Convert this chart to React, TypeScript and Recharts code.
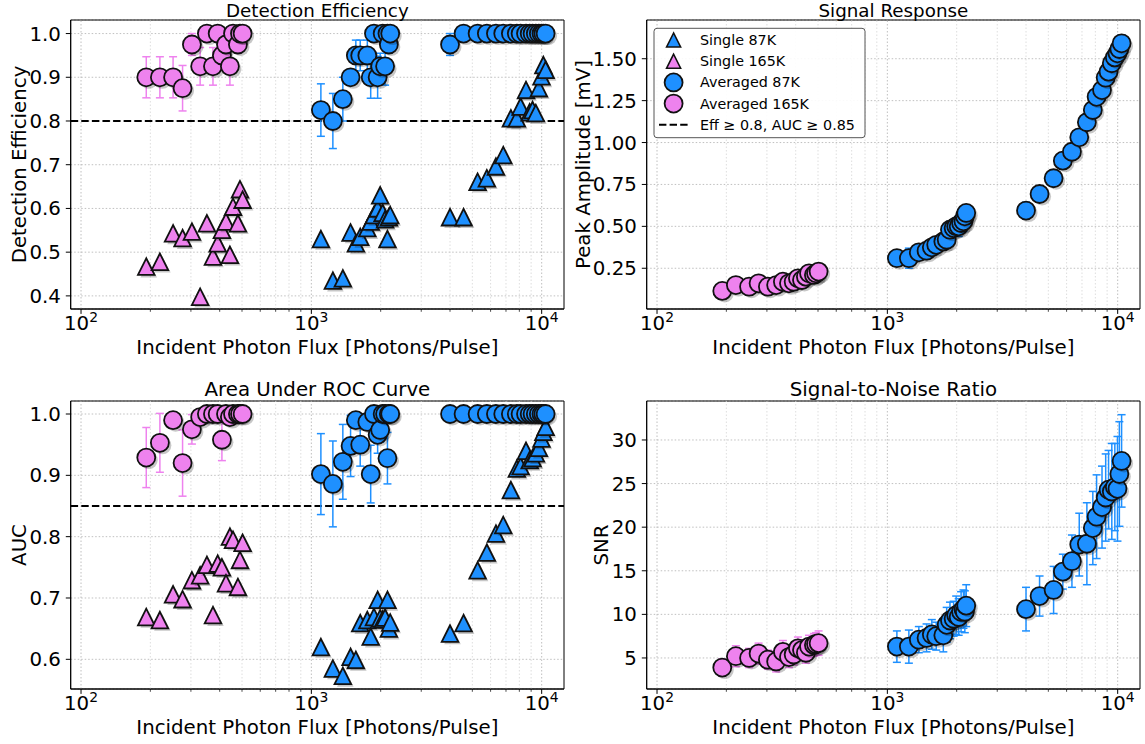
import React from 'react';
import {
  ScatterChart,
  Scatter,
  XAxis,
  YAxis,
  CartesianGrid,
  ReferenceLine,
  ReferenceArea,
  ErrorBar,
} from 'recharts';

const FONT = 'DejaVu Sans, sans-serif';
const BLUE = '#1E90FF';
const PINK = '#EE82EE';
const FS = 19.8;

// ---- axes ----
const MAJOR_X = [100, 1000, 10000];
const MINOR_X = [200, 300, 400, 500, 600, 700, 800, 900, 2000, 3000, 4000, 5000, 6000, 7000, 8000, 9000];
const ALL_X = [...MAJOR_X, ...MINOR_X].sort((a, b) => a - b);
const X_DOMAIN: [number, number] = [90.2, 12500];

const DE_TICKS = [0.4, 0.5, 0.6, 0.7, 0.8, 0.9, 1.0];
const SR_TICKS = [0.25, 0.5, 0.75, 1.0, 1.25, 1.5];
const AUC_TICKS = [0.6, 0.7, 0.8, 0.9, 1.0];
const SNR_TICKS = [5, 10, 15, 20, 25, 30];

// ---- x values (incident photon flux) ----
const x165 = [192, 220, 251, 276, 303, 329, 352, 374, 392, 409, 426, 443, 457, 480, 490, 503];
const x87 = [
  1100, 1240, 1370, 1480, 1560, 1630, 1750, 1810, 1870, 1940, 1990, 2040, 2090, 2140, 2170, 2200,
  4000, 4580, 5270, 5780, 6330, 6810, 7350, 7800, 8100, 8550, 8870, 9130, 9430, 9720, 9980, 10170, 10400,
];

// ---- Detection efficiency ----
const deAvg165 = [0.9, 0.9, 0.9, 0.875, 0.975, 0.925, 1.0, 0.925, 1.0, 0.95, 0.975, 0.925, 1.0, 0.975, 1.0, 1.0];
const deAvg165Err = [0.047, 0.047, 0.047, 0.052, 0.025, 0.043, 0, 0.043, 0, 0.02, 0.02, 0.043, 0, 0.02, 0, 0];
const deSingle165 = [0.467, 0.478, 0.543, 0.532, 0.547, 0.398, 0.566, 0.49, 0.52, 0.551, 0.57, 0.494, 0.604, 0.566, 0.644, 0.62];
const deAvg87 = [
  0.825, 0.8, 0.85, 0.9, 0.95, 0.95, 0.95, 0.9, 1.0, 0.9, 0.925, 1.0, 0.925, 1.0, 0.975, 1.0,
  0.975, 1, 1, 1, 1, 1, 1, 1, 1, 1, 1, 1, 1, 1, 1, 1, 1,
];
const deAvg87Err = [
  0.06, 0.063, 0.05, 0.01, 0.035, 0.035, 0.035, 0.048, 0, 0.048, 0.03, 0, 0.043, 0, 0.02, 0,
  0.025, 0, 0, 0, 0, 0, 0, 0, 0, 0, 0, 0, 0, 0, 0, 0, 0,
];
const deSingle87 = [
  0.53, 0.435, 0.44, 0.545, 0.52, 0.535, 0.555, 0.57, 0.585, 0.6, 0.63, 0.59, 0.575, 0.53, 0.58, 0.585,
  0.58, 0.58, 0.661, 0.669, 0.696, 0.722, 0.806, 0.806, 0.833, 0.871, 0.82, 0.825, 0.818, 0.875, 0.902, 0.928, 0.917,
];

// ---- Signal response (peak amplitude, mV) ----
const srAvg165 = [0.115, 0.15, 0.14, 0.16, 0.14, 0.15, 0.17, 0.16, 0.17, 0.19, 0.18, 0.2, 0.22, 0.21, 0.22, 0.23];
const srAvg165Err = [0.012, 0.012, 0.012, 0.012, 0.012, 0.012, 0.012, 0.012, 0.012, 0.012, 0.012, 0.012, 0.012, 0.012, 0.012, 0.012];
const srAvg87 = [
  0.31, 0.31, 0.345, 0.355, 0.375, 0.39, 0.41, 0.42, 0.48, 0.49, 0.5, 0.5, 0.52, 0.53, 0.56, 0.58,
  0.594, 0.693, 0.787, 0.892, 0.945, 1.031, 1.121, 1.194, 1.273, 1.313, 1.387, 1.423, 1.473, 1.508, 1.532, 1.558, 1.592,
];
const srAvg87Err = [
  0.04, 0.06, 0.04, 0.04, 0.03, 0.03, 0.04, 0.04, 0.05, 0.04, 0.05, 0.06, 0.05, 0.06, 0.05, 0.04,
  0.05, 0.03, 0.03, 0.03, 0.03, 0.03, 0.03, 0.04, 0.03, 0.03, 0.03, 0.04, 0.03, 0.04, 0.04, 0.05, 0.05,
];

// ---- AUC ----
const aucAvg165 = [0.929, 0.953, 0.99, 0.92, 0.975, 0.995, 1.0, 1.0, 1.0, 0.958, 1.0, 0.995, 1.0, 1.0, 1.0, 1.0];
const aucAvg165Err = [0.049, 0.048, 0.01, 0.054, 0.024, 0.005, 0, 0, 0, 0.034, 0, 0.005, 0, 0, 0, 0];
const aucSingle165 = [0.669, 0.664, 0.706, 0.698, 0.729, 0.737, 0.754, 0.672, 0.756, 0.75, 0.724, 0.8, 0.795, 0.718, 0.762, 0.79];
const aucAvg87 = [
  0.902, 0.886, 0.922, 0.948, 0.99, 0.95, 0.987, 0.902, 1.0, 0.966, 0.974, 1.0, 1.0, 0.928, 1.0, 1.0,
  1, 1, 1, 1, 1, 1, 1, 1, 1, 1, 1, 1, 1, 1, 1, 1, 1,
];
const aucAvg87Err = [
  0.066, 0.07, 0.061, 0.05, 0.01, 0.035, 0.01, 0.047, 0, 0.03, 0.02, 0, 0, 0.042, 0, 0,
  0, 0, 0, 0, 0, 0, 0, 0, 0, 0, 0, 0, 0, 0, 0, 0, 0,
];
const aucSingle87 = [
  0.62, 0.585, 0.573, 0.604, 0.599, 0.659, 0.664, 0.637, 0.669, 0.697, 0.667, 0.665, 0.668, 0.697, 0.65, 0.66,
  0.642, 0.659, 0.745, 0.774, 0.805, 0.819, 0.876, 0.911, 0.915, 0.94, 0.925, 0.928, 0.936, 0.945, 0.96, 0.971, 0.979,
];

// ---- SNR ----
const snrAvg165 = [3.9, 5.2, 5.0, 5.5, 4.8, 4.6, 5.7, 5.1, 5.4, 6.1, 5.9, 5.6, 6.3, 6.5, 6.6, 6.7];
const snrAvg165Err = [1.0, 1.2, 1.1, 1.2, 1.1, 1.2, 1.3, 1.2, 1.2, 1.3, 1.2, 1.2, 1.3, 1.3, 1.3, 1.4];
const snrAvg87 = [
  6.3, 6.3, 7.1, 7.3, 7.7, 7.5, 7.6, 8.8, 9.3, 9.5, 9.9, 9.7, 10.3, 10.6, 10.3, 11.0,
  10.6, 12.1, 12.8, 14.9, 16.1, 18.0, 18.1, 19.9, 21.2, 22.3, 23.4, 24.3, 24.1, 24.6, 24.4, 26.1, 27.6,
];
const snrAvg87Err = [
  1.8, 1.9, 1.5, 1.6, 1.7, 1.6, 1.9, 2.0, 2.1, 2.0, 2.2, 2.1, 2.3, 2.2, 2.4, 2.4,
  2.5, 2.3, 2.7, 2.0, 3.0, 3.6, 4.7, 4.2, 4.8, 4.7, 5.0, 4.5, 5.5, 5.0, 6.0, 6.0, 5.3,
];

const LEGEND_LABELS = ['Single 87K', 'Single 165K', 'Averaged 87K', 'Averaged 165K', 'Eff \u2265 0.8, AUC \u2265 0.85'];

type Pt = { x: number; y: number; err: number };
const build = (xs: number[], ys: number[], errs?: number[]): Pt[] =>
  xs.map((x, i) => ({ x, y: ys[i], err: errs ? errs[i] : 0 }));

const R = 9;
const T = 8.3;

const circleShape = (color: string) => (props: any) => {
  const { cx, cy } = props;
  if (cx == null || cy == null || isNaN(cx) || isNaN(cy)) return <g />;
  return (
    <g>
      <circle cx={cx + 2.5} cy={cy + 2.5} r={R} fill="#000" fillOpacity={0.22} />
      <circle cx={cx} cy={cy} r={R} fill={color} stroke="#111" strokeWidth={1.8} />
    </g>
  );
};

const triPts = (cx: number, cy: number, h: number, dx = 0, dy = 0) =>
  `${cx + dx},${cy - h + dy} ${cx - h + dx},${cy + h + dy} ${cx + h + dx},${cy + h + dy}`;

const triangleShape = (color: string) => (props: any) => {
  const { cx, cy } = props;
  if (cx == null || cy == null || isNaN(cx) || isNaN(cy)) return <g />;
  return (
    <g>
      <polygon points={triPts(cx, cy, T, 2.5, 2.5)} fill="#000" fillOpacity={0.22} />
      <polygon points={triPts(cx, cy, T)} fill={color} stroke="#111" strokeWidth={1.8} strokeLinejoin="miter" />
    </g>
  );
};

const XTick = (props: any) => {
  const { x, y, payload } = props;
  const v = payload.value;
  const major = MAJOR_X.includes(v);
  return (
    <g>
      <line x1={x} x2={x} y1={y} y2={y + (major ? 4.9 : 2.8)} stroke="#000" strokeWidth={major ? 1 : 0.7} />
      {major && (
        <text x={x} y={y + 21} textAnchor="middle" fontSize={FS} fontFamily={FONT} fill="#000">
          10
          <tspan dy={-7.6} fontSize={13.9}>
            {Math.round(Math.log10(v))}
          </tspan>
        </text>
      )}
    </g>
  );
};

type Series = { data: Pt[]; color: string; kind: 'tri' | 'circ'; err?: boolean; name: string };

type PanelProps = {
  left: number;
  top: number;
  width: number;
  height: number;
  margin: { top: number; right: number; bottom: number; left: number };
  yDomain: [number, number];
  yTicks: number[];
  yFmt: (v: number) => string;
  series: Series[];
  threshold?: number;
};

function Panel(p: PanelProps) {
  return (
    <div style={{ position: 'absolute', left: p.left, top: p.top }}>
      <ScatterChart width={p.width} height={p.height} margin={p.margin}>
        <CartesianGrid vertical={false} stroke="#b0b0b0" strokeDasharray="1.5 2" strokeWidth={0.8} />
        {MINOR_X.map((v) => (
          <ReferenceLine key={'mn' + v} x={v} stroke="#d6d6d6" strokeDasharray="1.5 2" strokeWidth={0.8} />
        ))}
        {MAJOR_X.map((v) => (
          <ReferenceLine key={'mj' + v} x={v} stroke="#b0b0b0" strokeDasharray="1.5 2" strokeWidth={0.8} />
        ))}
        <XAxis
          type="number"
          dataKey="x"
          scale="log"
          domain={X_DOMAIN}
          allowDataOverflow
          ticks={ALL_X}
          interval={0}
          tick={<XTick />}
          tickLine={false}
          tickSize={0}
          tickMargin={0}
          height={40}
          axisLine={{ stroke: '#000' }}
        />
        <YAxis
          type="number"
          dataKey="y"
          domain={p.yDomain}
          allowDataOverflow
          ticks={p.yTicks}
          interval={0}
          tickFormatter={p.yFmt}
          width={50}
          tickSize={4.9}
          tickMargin={4.9}
          tick={{ fontSize: FS, fill: '#000', fontFamily: FONT }}
          tickLine={{ stroke: '#000' }}
          axisLine={{ stroke: '#000' }}
        />
        {p.threshold != null && (
          <ReferenceLine y={p.threshold} stroke="#000" strokeDasharray="7.4 3.2" strokeWidth={2} />
        )}
        {p.series.map((s) => (
          <Scatter
            key={s.name}
            name={s.name}
            data={s.data}
            isAnimationActive={false}
            shape={s.kind === 'tri' ? triangleShape(s.color) : circleShape(s.color)}
          >
            {s.err && (
              <ErrorBar dataKey="err" direction="y" width={4} stroke={s.color} strokeWidth={1.5} isAnimationActive={false} />
            )}
          </Scatter>
        ))}
        <ReferenceArea
          x1={X_DOMAIN[0]}
          x2={X_DOMAIN[1]}
          y1={p.yDomain[0]}
          y2={p.yDomain[1]}
          fill="none"
          fillOpacity={0}
          stroke="#000"
          strokeWidth={1}
          ifOverflow="visible"
        />
      </ScatterChart>
    </div>
  );
}

const LEFT_M = { top: 20, right: 16, bottom: 11, left: 20.7 };
const LEFT_M_B = { top: 21, right: 16, bottom: 11, left: 20.7 };
const RIGHT_M = { top: 20, right: 5, bottom: 11, left: 6.7 };
const RIGHT_M_B = { top: 21, right: 5, bottom: 11, left: 6.7 };

export default function App() {
  const f1 = (v: number) => v.toFixed(1);
  const f2 = (v: number) => v.toFixed(2);
  const f0 = (v: number) => String(v);

  const deSeries: Series[] = [
    { name: 's87', data: build(x87, deSingle87), color: BLUE, kind: 'tri' },
    { name: 's165', data: build(x165, deSingle165), color: PINK, kind: 'tri' },
    { name: 'a87', data: build(x87, deAvg87, deAvg87Err), color: BLUE, kind: 'circ', err: true },
    { name: 'a165', data: build(x165, deAvg165, deAvg165Err), color: PINK, kind: 'circ', err: true },
  ];
  const srSeries: Series[] = [
    { name: 'a87', data: build(x87, srAvg87, srAvg87Err), color: BLUE, kind: 'circ', err: true },
    { name: 'a165', data: build(x165, srAvg165, srAvg165Err), color: PINK, kind: 'circ', err: true },
  ];
  const aucSeries: Series[] = [
    { name: 's87', data: build(x87, aucSingle87), color: BLUE, kind: 'tri' },
    { name: 's165', data: build(x165, aucSingle165), color: PINK, kind: 'tri' },
    { name: 'a87', data: build(x87, aucAvg87, aucAvg87Err), color: BLUE, kind: 'circ', err: true },
    { name: 'a165', data: build(x165, aucAvg165, aucAvg165Err), color: PINK, kind: 'circ', err: true },
  ];
  const snrSeries: Series[] = [
    { name: 'a87', data: build(x87, snrAvg87, snrAvg87Err), color: BLUE, kind: 'circ', err: true },
    { name: 'a165', data: build(x165, snrAvg165, snrAvg165Err), color: PINK, kind: 'circ', err: true },
  ];

  const txt = { fontFamily: FONT, fill: '#000' } as const;
  const legRows = [40, 61.2, 82.4, 103.6, 124.8];

  return (
    <div style={{ position: 'absolute', left: 0, top: 0, width: 1145, height: 744, background: '#fff', fontFamily: FONT }}>
      <Panel left={0} top={0} width={580} height={360} margin={LEFT_M} yDomain={[0.37, 1.031]} yTicks={DE_TICKS} yFmt={f1} series={deSeries} threshold={0.8} />
      <Panel left={590} top={0} width={555} height={360} margin={RIGHT_M} yDomain={[0.007, 1.731]} yTicks={SR_TICKS} yFmt={f2} series={srSeries} />
      <Panel left={0} top={380} width={580} height={360} margin={LEFT_M_B} yDomain={[0.5516, 1.0212]} yTicks={AUC_TICKS} yFmt={f1} series={aucSeries} threshold={0.85} />
      <Panel left={590} top={380} width={555} height={360} margin={RIGHT_M_B} yDomain={[1.44, 34.47]} yTicks={SNR_TICKS} yFmt={f0} series={snrSeries} />

      <svg width={1145} height={744} style={{ position: 'absolute', left: 0, top: 0, pointerEvents: 'none' }}>
        <text x={317.4} y={17} textAnchor="middle" fontSize={18.3} {...txt}>Detection Efficiency</text>
        <text x={893.4} y={17} textAnchor="middle" fontSize={18.3} {...txt}>Signal Response</text>
        <text x={317.4} y={396} textAnchor="middle" fontSize={FS} {...txt}>Area Under ROC Curve</text>
        <text x={893.4} y={396} textAnchor="middle" fontSize={FS} {...txt}>Signal-to-Noise Ratio</text>

        <text x={317.4} y={354} textAnchor="middle" fontSize={FS} {...txt}>Incident Photon Flux [Photons/Pulse]</text>
        <text x={893.4} y={354} textAnchor="middle" fontSize={FS} {...txt}>Incident Photon Flux [Photons/Pulse]</text>
        <text x={317.4} y={734} textAnchor="middle" fontSize={FS} {...txt}>Incident Photon Flux [Photons/Pulse]</text>
        <text x={893.4} y={734} textAnchor="middle" fontSize={FS} {...txt}>Incident Photon Flux [Photons/Pulse]</text>

        <text transform="translate(26,164.5) rotate(-90)" textAnchor="middle" fontSize={FS} {...txt}>Detection Efficiency</text>
        <text transform="translate(590,164.5) rotate(-90)" textAnchor="middle" fontSize={FS} {...txt}>Peak Amplitude [mV]</text>
        <text transform="translate(25.5,545) rotate(-90)" textAnchor="middle" fontSize={FS} {...txt}>AUC</text>
        <text transform="translate(608,545) rotate(-90)" textAnchor="middle" fontSize={FS} {...txt}>SNR</text>

        {/* legend */}
        <rect x={654} y={28.3} width={211} height={109.4} rx={3} fill="#fff" fillOpacity={0.9} stroke="#555" strokeWidth={1} />
        <polygon points={triPts(673.6, legRows[0], 7)} fill={BLUE} stroke="#111" strokeWidth={1.6} />
        <polygon points={triPts(673.6, legRows[1], 7)} fill={PINK} stroke="#111" strokeWidth={1.6} />
        <circle cx={673.6} cy={legRows[2]} r={R} fill={BLUE} stroke="#111" strokeWidth={1.8} />
        <circle cx={673.6} cy={legRows[3]} r={R} fill={PINK} stroke="#111" strokeWidth={1.8} />
        <line x1={659} x2={688} y1={legRows[4]} y2={legRows[4]} stroke="#000" strokeWidth={2} strokeDasharray="7.4 3.2" />
        {LEGEND_LABELS.map((l, i) => (
          <text key={l} x={700} y={legRows[i] + 5} fontSize={14.3} {...txt}>{l}</text>
        ))}
      </svg>
    </div>
  );
}
